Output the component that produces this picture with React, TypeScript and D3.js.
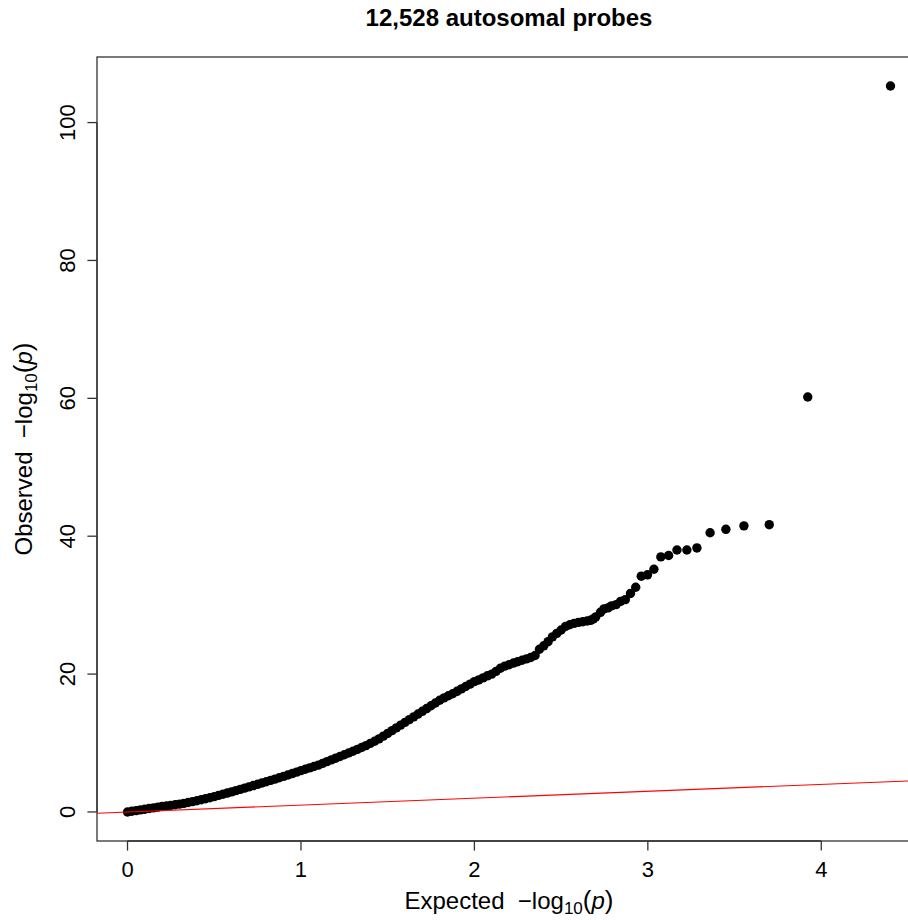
import React from 'react';
import * as d3 from 'd3';

const titleText = '12,528 autosomal probes';
const xTicks = [0, 1, 2, 3, 4];
const yTicks = [0, 20, 40, 60, 80, 100];

// Top-ranked probes
const tailExpected = [4.399, 3.922, 3.700, 3.554, 3.450, 3.359, 3.283, 3.225, 3.168, 3.120, 3.075, 3.035, 2.998, 2.962, 2.930, 2.900, 2.870, 2.843, 2.817, 2.790, 2.770, 2.747, 2.727, 2.700, 2.686, 2.670];
const tailObserved = [105.3, 60.2, 41.67, 41.5, 41.0, 40.5, 38.3, 38.0, 38.0, 37.2, 37.0, 35.2, 34.4, 34.2, 32.6, 31.7, 30.8, 30.55, 30.07, 29.9, 29.6, 29.45, 28.96, 28.3, 28.0, 27.8];

// Dense body of the QQ curve (read along the thick band)
const denseExpected = [
  0.000, 0.025, 0.050, 0.075, 0.100, 0.125, 0.150, 0.175, 0.200, 0.225,
  0.250, 0.275, 0.300, 0.325, 0.350, 0.375, 0.400, 0.425, 0.450, 0.475,
  0.500, 0.525, 0.550, 0.575, 0.600, 0.625, 0.650, 0.675, 0.700, 0.725,
  0.750, 0.775, 0.800, 0.825, 0.850, 0.875, 0.900, 0.925, 0.950, 0.975,
  1.000, 1.025, 1.050, 1.075, 1.100, 1.125, 1.150, 1.175, 1.200, 1.225,
  1.250, 1.275, 1.300, 1.325, 1.350, 1.375, 1.400, 1.425, 1.450, 1.475,
  1.500, 1.525, 1.550, 1.575, 1.600, 1.625, 1.650, 1.675, 1.700, 1.725,
  1.750, 1.775, 1.800, 1.825, 1.850, 1.875, 1.900, 1.925, 1.950, 1.975,
  2.000, 2.025, 2.050, 2.075, 2.100, 2.125, 2.150, 2.175, 2.200, 2.225,
  2.250, 2.275, 2.300, 2.325, 2.350, 2.375, 2.400, 2.425, 2.450, 2.475,
  2.500, 2.525, 2.550, 2.575, 2.600, 2.625, 2.650,
];
const denseObserved = [
  0.00, 0.10, 0.20, 0.30, 0.40, 0.50, 0.60, 0.70, 0.80, 0.88,
  0.96, 1.05, 1.14, 1.25, 1.37, 1.50, 1.63, 1.77, 1.91, 2.06,
  2.22, 2.40, 2.57, 2.74, 2.92, 3.10, 3.28, 3.46, 3.64, 3.83,
  4.01, 4.20, 4.39, 4.58, 4.77, 4.97, 5.16, 5.36, 5.57, 5.78,
  6.00, 6.20, 6.40, 6.60, 6.80, 7.05, 7.30, 7.55, 7.80, 8.05,
  8.30, 8.55, 8.80, 9.08, 9.35, 9.62, 9.95, 10.25, 10.60, 11.00,
  11.40, 11.80, 12.20, 12.60, 13.00, 13.40, 13.80, 14.20, 14.60, 15.00,
  15.40, 15.80, 16.20, 16.55, 16.85, 17.15, 17.50, 17.85, 18.20, 18.55,
  18.90, 19.15, 19.45, 19.75, 20.00, 20.40, 20.85, 21.15, 21.35, 21.60,
  21.80, 22.00, 22.20, 22.40, 22.70, 23.60, 24.10, 24.70, 25.40, 25.90,
  26.40, 26.90, 27.15, 27.35, 27.50, 27.60, 27.70,
];

const FONT = '"Liberation Sans", Arial, Helvetica, sans-serif';

export default function App() {
  const W = 908, H = 920;
  const L = 97, R = 921, T = 57, B = 841;

  const allE = [...denseExpected, ...tailExpected];
  const allO = [...denseObserved, ...tailObserved];
  const [e0, e1] = d3.extent(allE) as [number, number];
  const [o0, o1] = d3.extent(allO) as [number, number];
  const pe = (e1 - e0) * 0.04, po = (o1 - o0) * 0.04;
  const x = d3.scaleLinear().domain([e0 - pe, e1 + pe]).range([L, R]);
  const y = d3.scaleLinear().domain([o0 - po, o1 + po]).range([B, T]);

  const pts = [
    ...denseExpected.map((e, i) => ({ e, o: denseObserved[i] })),
    ...tailExpected.map((e, i) => ({ e, o: tailObserved[i] })),
  ];

  const [dx0, dx1] = x.domain();
  const axisStroke = '#333';
  const tickLen = 9.6;
  const gap = '\u00a0\u00a0';

  return (
    <svg width={W} height={H} style={{ position: 'absolute', left: 0, top: 0, background: '#fff' }} fontFamily={FONT}>
      <defs>
        <clipPath id="plotclip">
          <rect x={L} y={T} width={R - L} height={B - T} />
        </clipPath>
      </defs>
      <rect x={0} y={0} width={W} height={H} fill="#fff" />
      <text x={(L + R) / 2} y={26} textAnchor="middle" fontSize={24} fontWeight="bold">{titleText}</text>

      <g clipPath="url(#plotclip)">
        {pts.map((p, i) => (
          <circle key={i} cx={x(p.e)} cy={y(p.o)} r={4.7} fill="#000" />
        ))}
        <line x1={x(dx0)} y1={y(dx0)} x2={x(dx1)} y2={y(dx1)} stroke="#ff0000" strokeWidth={1.1} />
      </g>

      {/* box */}
      <rect x={L} y={T} width={R - L} height={B - T} fill="none" stroke={axisStroke} strokeWidth={1.3} />

      {/* x axis */}
      <line x1={x(xTicks[0])} x2={x(xTicks[xTicks.length - 1])} y1={B} y2={B} stroke={axisStroke} strokeWidth={1.3} />
      {xTicks.map(t => (
        <g key={t}>
          <line x1={x(t)} x2={x(t)} y1={B} y2={B + tickLen} stroke={axisStroke} strokeWidth={1.3} />
          <text x={x(t)} y={877} textAnchor="middle" fontSize={22}>{t}</text>
        </g>
      ))}

      {/* y axis */}
      <line x1={L} x2={L} y1={y(yTicks[0])} y2={y(yTicks[yTicks.length - 1])} stroke={axisStroke} strokeWidth={1.3} />
      {yTicks.map(t => (
        <g key={t}>
          <line x1={L - tickLen} x2={L} y1={y(t)} y2={y(t)} stroke={axisStroke} strokeWidth={1.3} />
          <text transform={`translate(75,${y(t)}) rotate(-90)`} textAnchor="middle" fontSize={22}>{t}</text>
        </g>
      ))}

      {/* axis titles */}
      <text x={(L + R) / 2} y={909} textAnchor="middle" fontSize={24}>
        <tspan>{`Expected${gap}−log`}</tspan>
        <tspan fontSize={17} dy={5}>10</tspan>
        <tspan dy={-5} fontSize={26}>(</tspan>
        <tspan fontStyle="italic">p</tspan>
        <tspan fontSize={26}>)</tspan>
      </text>
      <text transform={`translate(32,${(T + B) / 2}) rotate(-90)`} textAnchor="middle" fontSize={24}>
        <tspan>{`Observed${gap}−log`}</tspan>
        <tspan fontSize={17} dy={5}>10</tspan>
        <tspan dy={-5} fontSize={26}>(</tspan>
        <tspan fontStyle="italic">p</tspan>
        <tspan fontSize={26}>)</tspan>
      </text>
    </svg>
  );
}
